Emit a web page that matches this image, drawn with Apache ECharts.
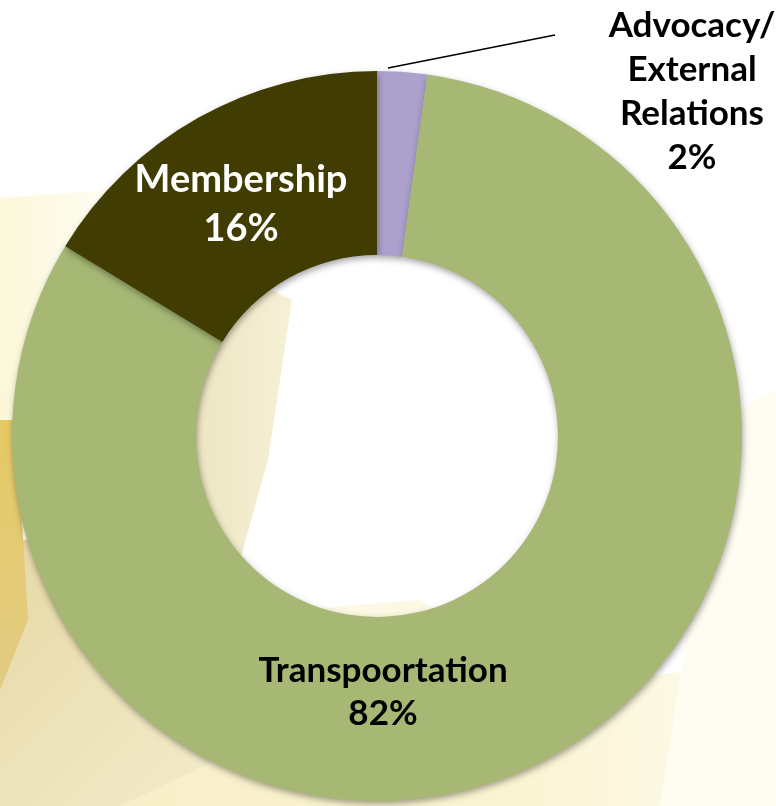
<!DOCTYPE html>
<html>
<head>
<meta charset="utf-8">
<script src="https://cdn.jsdelivr.net/npm/echarts@6/dist/echarts.min.js"></script>
<style>
html,body{margin:0;padding:0;background:#fff;}
#chart{width:776px;height:806px;}
</style>
</head>
<body>
<div id="chart"></div>
<script>
// Data
const categories = ['Advocacy/\nExternal\nRelations', 'Transpoortation', 'Membership'];
const values = [2.2, 81.5, 16.3];

// Styles
const sliceColors = ['#aca0cc', '#a6b874', '#403c02'];
const labelColors = ['#000000', '#000000', '#ffffff'];
const labelSizes = [35, 35, 38];
const labelLineHeights = [44, 43, 49];
const CX = 377, CY = 436, R_IN = 181, R_OUT = 365;

const chart = echarts.init(document.getElementById('chart'), null, {renderer: 'canvas'});

const bg = [
  {type: 'rect', shape: {x: 0, y: 0, width: 776, height: 806}, style: {fill: '#ffffff'}},
  {type: 'polygon', shape: {points: [[0,198],[110,190],[70,430],[0,430]]},
   style: {fill: {type: 'linear', x: 0, y: 0, x2: 1, y2: 0, colorStops: [{offset: 0, color: '#fcf7d8'}, {offset: 1, color: '#fffdf4'}]}}},
  {type: 'polygon', shape: {points: [[0,540],[80,540],[260,806],[0,806]]},
   style: {fill: {type: 'linear', x: 0, y: 0, x2: 1, y2: 1, colorStops: [{offset: 0, color: '#e6d8a6'}, {offset: 1, color: '#f5eece'}]}}},
  {type: 'polygon', shape: {points: [[0,420],[16,420],[28,620],[0,690]]},
   style: {fill: {type: 'linear', x: 0, y: 0, x2: 0, y2: 1, colorStops: [{offset: 0, color: '#e6c964'}, {offset: 1, color: '#e2cc84'}]}}},
  {type: 'polygon', shape: {points: [[120,806],[300,720],[776,660],[776,806]]},
   style: {fill: {type: 'linear', x: 0, y: 0, x2: 1, y2: 0, colorStops: [{offset: 0, color: '#f8efc8'}, {offset: 0.6, color: '#fbf4d2'}, {offset: 1, color: '#fefbee'}]}}},
  {type: 'polygon', shape: {points: [[720,420],[776,390],[776,806],[660,806]]},
   style: {fill: '#fffcf2'}},
  {type: 'polygon', shape: {points: [[195,330],[268,288],[292,300],[268,460],[240,560],[195,520]]},
   style: {fill: {type: 'linear', x: 0, y: 0, x2: 1, y2: 0, colorStops: [{offset: 0, color: '#ede5c2'}, {offset: 1, color: '#f6f0d6'}]}}},
  {type: 'polygon', shape: {points: [[320,608],[420,600],[450,620],[320,625]]},
   style: {fill: '#fcf8e4'}}
];

chart.setOption({
  animation: false,
  graphic: bg.map(g => Object.assign({z: -10, silent: true}, g)),
  series: [{
    type: 'pie',
    z: 2,
    center: [CX, CY],
    radius: [R_IN, R_OUT],
    startAngle: 90,
    clockwise: true,
    avoidLabelOverlap: false,
    itemStyle: {
      shadowBlur: 6,
      shadowColor: 'rgba(0,0,0,0.35)',
      shadowOffsetX: 1,
      shadowOffsetY: 3
    },
    label: {
      fontFamily: 'Lato, "Open Sans", sans-serif',
      fontWeight: 'bold',
      formatter: p => p.name + '\n' + Math.round(p.percent) + '%'
    },
    labelLine: {lineStyle: {color: '#000', width: 1.5}, smooth: false},
    labelLayout: function (p) {
      if (p.dataIndex === 0) {
        return {x: 692, y: 92, align: 'center', verticalAlign: 'middle',
                labelLinePoints: [[388, 68], [555, 35], [555, 35]]};
      }
      if (p.dataIndex === 1) {
        return {x: CX + 6, y: CY + 256, align: 'center', verticalAlign: 'middle'};
      }
      return {x: 241, y: 204, align: 'center', verticalAlign: 'middle'};
    },
    data: categories.map((c, i) => ({
      name: c,
      value: values[i],
      itemStyle: {color: sliceColors[i]},
      label: {
        position: i === 0 ? 'outside' : 'inside',
        color: labelColors[i],
        fontSize: labelSizes[i],
        lineHeight: labelLineHeights[i]
      },
      labelLine: {show: i === 0}
    }))
  }]
});
</script>
</body>
</html>
